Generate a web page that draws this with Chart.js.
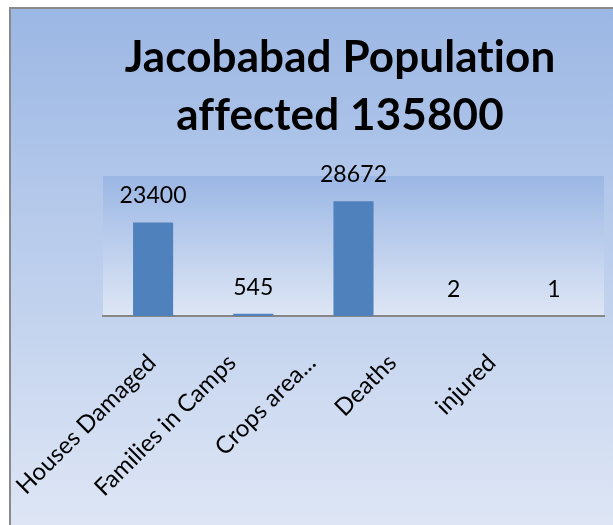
<!DOCTYPE html>
<html>
<head>
<meta charset="utf-8">
<script src="https://cdn.jsdelivr.net/npm/chart.js@4.4.1/dist/chart.umd.min.js"></script>
<style>
  html, body { margin: 0; padding: 0; background: #ffffff; }
  canvas { display: block; }
</style>
</head>
<body>
<canvas id="c" width="613" height="525"></canvas>
<script>
// ---- data ----
const titleLines = ['Jacobabad Population', 'affected 135800'];
const categories = ['Houses Damaged', 'Families in Camps', 'Crops area...', 'Deaths', 'injured'];
const values = [23400, 545, 28672, 2, 1];
const yMin = 0;
const yMax = 35000;

const FONT = 'Lato, "Open Sans", sans-serif';

const backgroundPlugin = {
  id: 'bgBox',
  beforeDraw(chart) {
    const ctx = chart.ctx;
    // avoid ligatures (fi, ti) so text looks like the original
    try { ctx.letterSpacing = '0.1px'; } catch (e) {}
    try { ctx.textRendering = 'optimizeSpeed'; } catch (e) {}
    const W = chart.width, H = chart.height;
    ctx.save();
    ctx.fillStyle = '#ffffff';
    ctx.fillRect(0, 0, W, H);
    // outer chart box gradient
    const g = ctx.createLinearGradient(0, 8, 0, H);
    g.addColorStop(0, '#9BB7E4');
    g.addColorStop(1, '#DEE6F5');
    ctx.fillStyle = g;
    ctx.fillRect(10, 8, W - 10, H - 8);
    // border (left and top visible)
    ctx.strokeStyle = '#8a8a8a';
    ctx.lineWidth = 2;
    ctx.beginPath();
    ctx.moveTo(10, H + 2);
    ctx.lineTo(10, 8);
    ctx.lineTo(W + 2, 8);
    ctx.stroke();
    // plot area gradient
    const a = chart.chartArea;
    const g2 = ctx.createLinearGradient(0, a.top, 0, a.bottom);
    g2.addColorStop(0, '#9BB7E4');
    g2.addColorStop(1, '#DEE6F5');
    ctx.fillStyle = g2;
    ctx.fillRect(a.left, a.top, a.right - a.left, a.bottom - a.top);
    ctx.restore();
  }
};

const valueLabelPlugin = {
  id: 'valueLabels',
  afterDatasetsDraw(chart) {
    const ctx = chart.ctx;
    const meta = chart.getDatasetMeta(0);
    ctx.save();
    ctx.font = '23px ' + FONT;
    ctx.fillStyle = '#000000';
    ctx.textAlign = 'center';
    ctx.textBaseline = 'alphabetic';
    meta.data.forEach((bar, i) => {
      ctx.fillText(String(chart.data.datasets[0].data[i]), bar.x, bar.y - 19);
    });
    ctx.restore();
  }
};

const categoryLabelPlugin = {
  id: 'catLabels',
  afterDraw(chart) {
    const ctx = chart.ctx;
    const xs = chart.scales.x;
    const size = 24;
    ctx.save();
    ctx.font = size + 'px ' + FONT;
    ctx.fillStyle = '#000000';
    ctx.textAlign = 'center';
    ctx.textBaseline = 'middle';
    const s = Math.SQRT1_2;
    chart.data.labels.forEach((lab, i) => {
      const tx = xs.getPixelForTick(i);
      const L = ctx.measureText(lab).width;
      const ext = s * (L + size * 0.9);
      const cx = Math.max(tx - 88, 13 + ext / 2);
      const cy = xs.top + 35 + ext / 2;
      ctx.save();
      ctx.translate(cx, cy);
      ctx.rotate(-Math.PI / 4);
      ctx.fillText(lab, 0, 0);
      ctx.restore();
    });
    ctx.restore();
  }
};

new Chart(document.getElementById('c'), {
  type: 'bar',
  data: {
    labels: categories,
    datasets: [{
      data: values,
      backgroundColor: '#4F81BD',
      borderWidth: 0,
      barPercentage: 0.4,
      categoryPercentage: 1.0
    }]
  },
  options: {
    responsive: false,
    animation: false,
    events: [],
    layout: { padding: { left: 76, right: 9, top: 29, bottom: 0 } },
    plugins: {
      legend: { display: false },
      tooltip: { enabled: false },
      title: {
        display: true,
        text: titleLines,
        color: '#000000',
        font: { family: FONT, weight: 'bold', size: 44, lineHeight: '58px' },
        padding: { top: 0, bottom: 31 }
      }
    },
    scales: {
      x: {
        grid: { display: false },
        border: { display: true, color: '#868686', width: 2 },
        ticks: { display: false },
        afterFit(scale) { scale.height = 209; }
      },
      y: {
        min: yMin,
        max: yMax,
        grid: { display: false },
        border: { display: false },
        ticks: { display: false },
        afterFit(scale) { scale.width = 27; }
      }
    }
  },
  plugins: [backgroundPlugin, valueLabelPlugin, categoryLabelPlugin]
});
</script>
</body>
</html>
